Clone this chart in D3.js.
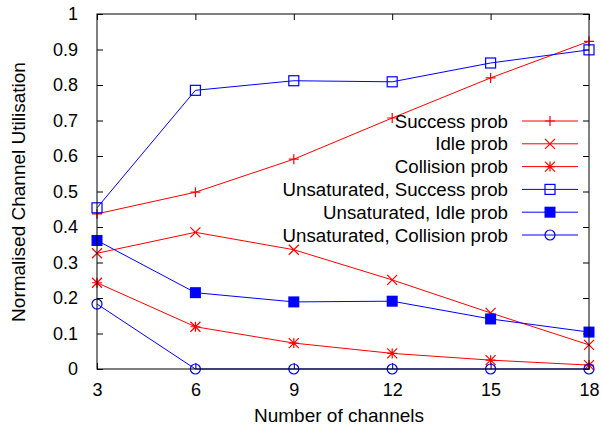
<!DOCTYPE html>
<html>
<head>
<meta charset="utf-8">
<script src="https://cdn.jsdelivr.net/npm/d3@7"></script>
<style>
  html, body { margin: 0; padding: 0; background: #fff; }
  svg text { font-family: "Liberation Sans", Arial, sans-serif; fill: #000; }
</style>
</head>
<body>
<svg id="chart" width="601" height="430"></svg>
<script>
// Channel counts on the x axis
const channels = [3, 6, 9, 12, 15, 18];

// Saturated probabilities
const successProb   = [0.437, 0.498, 0.591, 0.707, 0.820, 0.923];
const idleProb      = [0.326, 0.385, 0.336, 0.251, 0.158, 0.068];
const collisionProb = [0.243, 0.119, 0.073, 0.044, 0.025, 0.011];

// Unsaturated probabilities
const unsatSuccessProb   = [0.454, 0.785, 0.812, 0.809, 0.862, 0.899];
const unsatIdleProb      = [0.362, 0.215, 0.189, 0.191, 0.141, 0.104];
const unsatCollisionProb = [0.183, 0.000, 0.000, 0.000, 0.000, 0.000];

const xTicks = [3, 6, 9, 12, 15, 18];
const yTicks = [0, 0.1, 0.2, 0.3, 0.4, 0.5, 0.6, 0.7, 0.8, 0.9, 1];

const seriesLabels = [
  "Success prob", "Idle prob", "Collision prob",
  "Unsaturated, Success prob", "Unsaturated, Idle prob", "Unsaturated, Collision prob"
];
const seriesValues = [successProb, idleProb, collisionProb,
  unsatSuccessProb, unsatIdleProb, unsatCollisionProb];
const seriesColors = ["#ff0000", "#ff0000", "#ff0000", "#0000ff", "#0000ff", "#0000ff"];
const seriesMarkers = ["plus", "cross", "star", "square", "filledSquare", "circle"];

const svg = d3.select("#chart");
const plotLeft = 97, plotRight = 589, plotTop = 14, plotBottom = 369;

const x = d3.scaleLinear().domain([3, 18]).range([plotLeft, plotRight]);
const y = d3.scaleLinear().domain([0, 1]).range([plotBottom, plotTop]);

const fmtY = v => (v === 0 ? "0" : v === 1 ? "1" : d3.format(".1f")(v));

// Axes with inward ticks, mirrored on the opposite sides
const tickLen = 6;
svg.append("g").attr("transform", `translate(0,${plotBottom})`)
  .call(d3.axisBottom(x).tickValues(xTicks).tickSize(-tickLen).tickPadding(14).tickSizeOuter(0))
  .call(g => g.select(".domain").remove());
svg.append("g").attr("transform", `translate(0,${plotTop})`)
  .call(d3.axisTop(x).tickValues(xTicks).tickSize(-tickLen).tickFormat("").tickSizeOuter(0))
  .call(g => g.select(".domain").remove());
svg.append("g").attr("transform", `translate(${plotLeft},0)`)
  .call(d3.axisLeft(y).tickValues(yTicks).tickSize(-tickLen).tickPadding(19).tickFormat(fmtY).tickSizeOuter(0))
  .call(g => g.select(".domain").remove());
svg.append("g").attr("transform", `translate(${plotRight},0)`)
  .call(d3.axisRight(y).tickValues(yTicks).tickSize(-tickLen).tickFormat("").tickSizeOuter(0))
  .call(g => g.select(".domain").remove());

svg.selectAll(".tick line").attr("stroke", "#000").attr("stroke-width", 1);
svg.selectAll(".tick text")
  .style("font-family", '"Liberation Sans", Arial, sans-serif')
  .style("font-size", "18px").attr("fill", "#000");

// Marker shapes
function drawMarker(g, type, cx, cy, color) {
  const s = 5;
  if (type === "plus") {
    g.append("path").attr("d", `M${cx - s},${cy}H${cx + s}M${cx},${cy - s}V${cy + s}`)
      .attr("stroke", color).attr("stroke-width", 1.2).attr("fill", "none");
  } else if (type === "cross") {
    g.append("path").attr("d", `M${cx - s},${cy - s}L${cx + s},${cy + s}M${cx - s},${cy + s}L${cx + s},${cy - s}`)
      .attr("stroke", color).attr("stroke-width", 1.2).attr("fill", "none");
  } else if (type === "star") {
    g.append("path").attr("d",
      `M${cx - s},${cy}H${cx + s}M${cx},${cy - s}V${cy + s}` +
      `M${cx - s},${cy - s}L${cx + s},${cy + s}M${cx - s},${cy + s}L${cx + s},${cy - s}`)
      .attr("stroke", color).attr("stroke-width", 1.2).attr("fill", "none");
  } else if (type === "square") {
    g.append("rect").attr("x", cx - s).attr("y", cy - s).attr("width", 2 * s).attr("height", 2 * s)
      .attr("stroke", color).attr("stroke-width", 1.2).attr("fill", "none");
  } else if (type === "filledSquare") {
    g.append("rect").attr("x", cx - 5.5).attr("y", cy - 5.5).attr("width", 11).attr("height", 11)
      .attr("fill", color);
  } else if (type === "circle") {
    g.append("circle").attr("cx", cx).attr("cy", cy).attr("r", s)
      .attr("stroke", color).attr("stroke-width", 1.2).attr("fill", "none");
  }
}

const line = d3.line().x(d => x(d[0])).y(d => y(d[1]));

seriesValues.forEach((vals, i) => {
  const pts = channels.map((c, j) => [c, vals[j]]);
  const g = svg.append("g");
  g.append("path").attr("d", line(pts)).attr("fill", "none")
    .attr("stroke", seriesColors[i]).attr("stroke-width", 1);
  pts.forEach(p => drawMarker(g, seriesMarkers[i], x(p[0]), y(p[1]), seriesColors[i]));
});

// Frame
svg.append("rect").attr("x", plotLeft).attr("y", plotTop)
  .attr("width", plotRight - plotLeft).attr("height", plotBottom - plotTop)
  .attr("fill", "none").attr("stroke", "#000").attr("stroke-width", 1);

// Legend
const legTextX = 508, legLineX0 = 522, legLineX1 = 578, legY0 = 121, legStep = 22.8;
seriesLabels.forEach((label, i) => {
  const ly = legY0 + i * legStep;
  svg.append("text").attr("x", legTextX).attr("y", ly).attr("dy", "0.35em")
    .attr("text-anchor", "end").style("font-size", "18.7px").text(label);
  svg.append("line").attr("x1", legLineX0).attr("x2", legLineX1).attr("y1", ly).attr("y2", ly)
    .attr("stroke", seriesColors[i]).attr("stroke-width", 1);
  drawMarker(svg, seriesMarkers[i], (legLineX0 + legLineX1) / 2, ly, seriesColors[i]);
});

// Axis titles
svg.append("text").attr("x", 339).attr("y", 422).attr("text-anchor", "middle")
  .style("font-size", "19px").text("Number of channels");
svg.append("text").attr("transform", "translate(25,192) rotate(-90)")
  .attr("text-anchor", "middle").style("font-size", "19px").text("Normalised Channel Utilisation");
</script>
</body>
</html>
